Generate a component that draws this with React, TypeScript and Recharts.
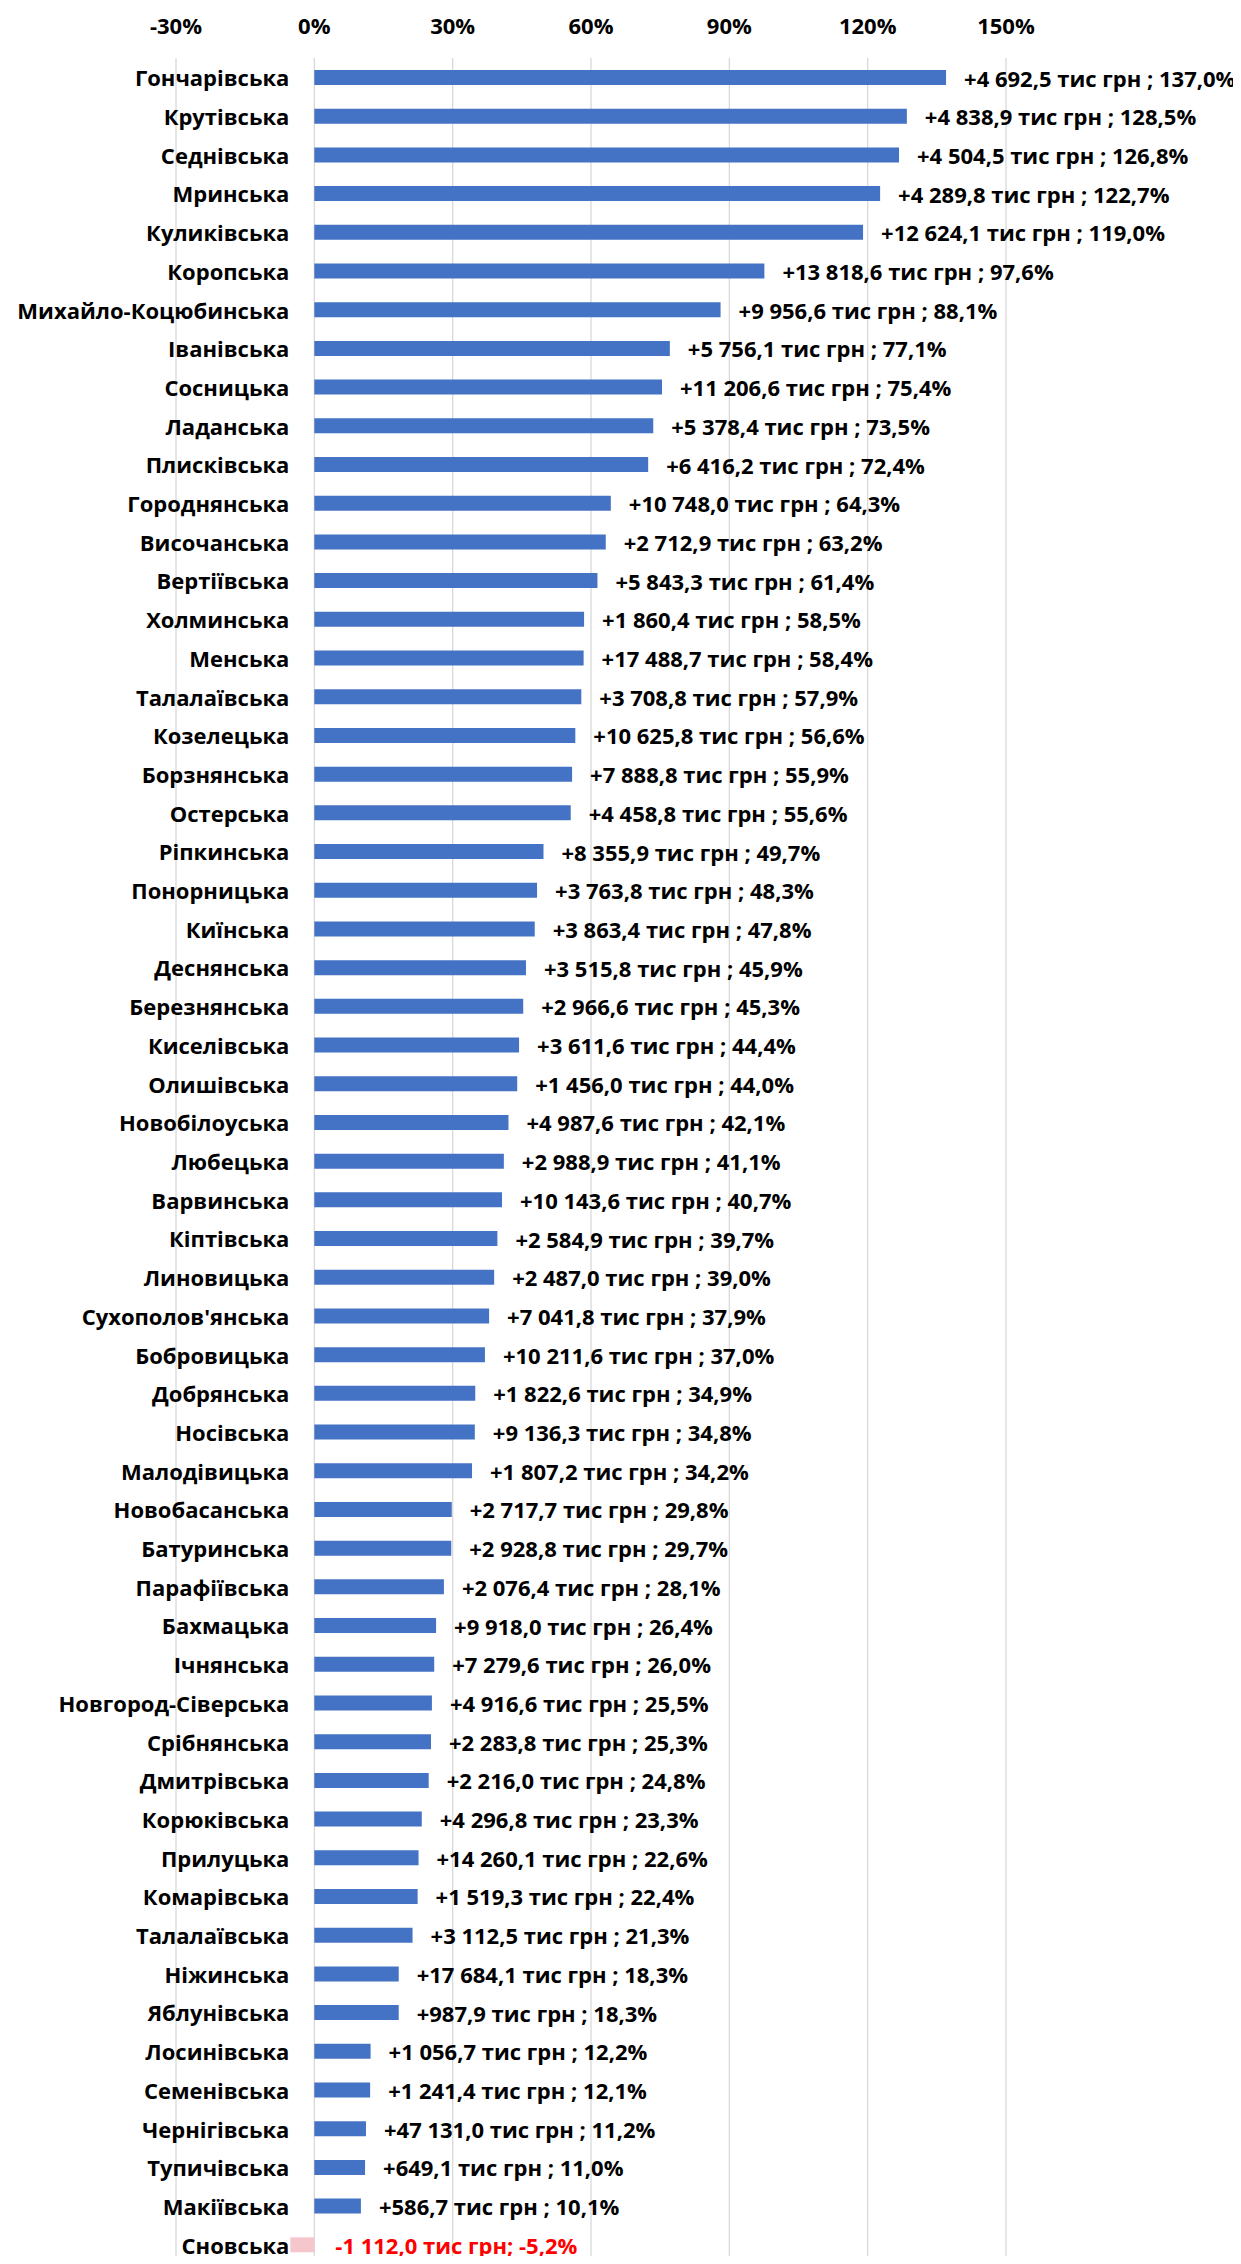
import { BarChart, Bar, XAxis, YAxis, CartesianGrid, Cell, LabelList } from "recharts"

const communities = [
  "Гончарівська", "Крутівська", "Седнівська", "Мринська", "Куликівська", "Коропська",
  "Михайло-Коцюбинська", "Іванівська", "Сосницька", "Ладанська", "Плисківська", "Городнянська",
  "Височанська", "Вертіївська", "Холминська", "Менська", "Талалаївська", "Козелецька",
  "Борзнянська", "Остерська", "Ріпкинська", "Понорницька", "Киїнська", "Деснянська",
  "Березнянська", "Киселівська", "Олишівська", "Новобілоуська", "Любецька", "Варвинська",
  "Кіптівська", "Линовицька", "Сухополов'янська", "Бобровицька", "Добрянська", "Носівська",
  "Малодівицька", "Новобасанська", "Батуринська", "Парафіївська", "Бахмацька", "Ічнянська",
  "Новгород-Сіверська", "Срібнянська", "Дмитрівська", "Корюківська", "Прилуцька", "Комарівська",
  "Талалаївська", "Ніжинська", "Яблунівська", "Лосинівська", "Семенівська", "Чернігівська",
  "Тупичівська", "Макіївська", "Сновська",
]

// growth, %
const growthPct = [
  137.0, 128.5, 126.8, 122.7, 119.0, 97.6,
  88.1, 77.1, 75.4, 73.5, 72.4, 64.3,
  63.2, 61.4, 58.5, 58.4, 57.9, 56.6,
  55.9, 55.6, 49.7, 48.3, 47.8, 45.9,
  45.3, 44.4, 44.0, 42.1, 41.1, 40.7,
  39.7, 39.0, 37.9, 37.0, 34.9, 34.8,
  34.2, 29.8, 29.7, 28.1, 26.4, 26.0,
  25.5, 25.3, 24.8, 23.3, 22.6, 22.4,
  21.3, 18.3, 18.3, 12.2, 12.1, 11.2,
  11.0, 10.1, -5.2,
]

// growth, тис грн
const growthAmount = [
  4692.5, 4838.9, 4504.5, 4289.8, 12624.1, 13818.6,
  9956.6, 5756.1, 11206.6, 5378.4, 6416.2, 10748.0,
  2712.9, 5843.3, 1860.4, 17488.7, 3708.8, 10625.8,
  7888.8, 4458.8, 8355.9, 3763.8, 3863.4, 3515.8,
  2966.6, 3611.6, 1456.0, 4987.6, 2988.9, 10143.6,
  2584.9, 2487.0, 7041.8, 10211.6, 1822.6, 9136.3,
  1807.2, 2717.7, 2928.8, 2076.4, 9918.0, 7279.6,
  4916.6, 2283.8, 2216.0, 4296.8, 14260.1, 1519.3,
  3112.5, 17684.1, 987.9, 1056.7, 1241.4, 47131.0,
  649.1, 586.7, -1112.0,
]

const axisTicks = [-30, 0, 30, 60, 90, 120, 150]

const FONT = "'Open Sans', 'Noto Sans', sans-serif"
const FS = 22
const W = 1241
const H = 2264
const LEFT = 176
const RIGHT = 1006
const zeroX = LEFT + ((0 - axisTicks[0]) / (axisTicks[axisTicks.length - 1] - axisTicks[0])) * (RIGHT - LEFT)

function fmt(n: number) {
  const [int, dec] = Math.abs(n).toFixed(1).split(".")
  return int.replace(/\B(?=(\d{3})+(?!\d))/g, " ") + "," + dec
}

function labelText(i: number) {
  const a = growthAmount[i]
  const p = growthPct[i]
  if (a < 0) return `-${fmt(a)} тис грн; -${fmt(p)}%`
  return `+${fmt(a)} тис грн ; ${fmt(p)}%`
}

const data = communities.map((name, i) => ({ name, pct: growthPct[i], idx: i }))

const CategoryTick = (props: any) => {
  const { y, payload } = props
  return (
    <text x={zeroX - 25} y={y} textAnchor="end" dominantBaseline="central"
      fontFamily={FONT} fontWeight={700} fontSize={FS} fill="#000">
      {payload.value}
    </text>
  )
}

const TopTick = (props: any) => {
  const { x, payload } = props
  return (
    <text x={x} y={25} textAnchor="middle" dominantBaseline="central"
      fontFamily={FONT} fontWeight={700} fontSize={FS} fill="#000">
      {payload.value}%
    </text>
  )
}

const ValueLabel = (props: any) => {
  const { x, y, width, height, index } = props
  const neg = growthPct[index] < 0
  const end = Math.max(x, x + width)
  return (
    <text x={end + (neg ? 21 : 18)} y={y + height / 2} dominantBaseline="central"
      fontFamily={FONT} fontWeight={700} fontSize={FS} fill={neg ? "#ff0000" : "#000"}>
      {labelText(index)}
    </text>
  )
}

export default function App() {
  return (
    <div style={{ margin: -8, width: W, height: H, background: "#fff" }}>
      <BarChart
        width={W}
        height={H}
        data={data}
        layout="vertical"
        margin={{ top: 0, right: W - RIGHT, left: LEFT - 1, bottom: 0 }}
      >
        <CartesianGrid horizontal={false} stroke="#d9d9d9" strokeWidth={1.3} />
        <XAxis
          type="number"
          orientation="top"
          domain={[axisTicks[0], axisTicks[axisTicks.length - 1]]}
          ticks={axisTicks}
          height={58}
          axisLine={false}
          tickLine={false}
          tick={<TopTick />}
          interval={0}
        />
        <YAxis
          type="category"
          dataKey="name"
          width={1}
          axisLine={false}
          tickLine={false}
          interval={0}
          allowDuplicatedCategory={true}
          tick={<CategoryTick />}
        />
        <Bar dataKey="pct" barSize={15} isAnimationActive={false}>
          {data.map((d) => (
            <Cell key={d.idx} fill={d.pct < 0 ? "#f6c6cd" : "#4472c4"} />
          ))}
          <LabelList dataKey="pct" content={<ValueLabel />} />
        </Bar>
      </BarChart>
    </div>
  )
}
